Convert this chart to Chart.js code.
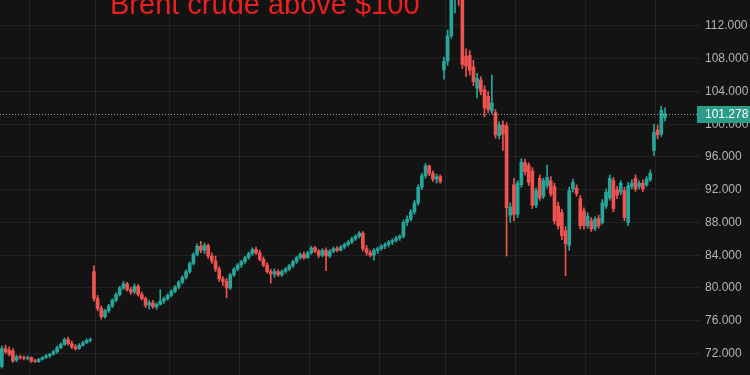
<!DOCTYPE html>
<html>
<head>
<meta charset="utf-8">
<title>Brent crude above $100</title>
<script src="https://cdn.jsdelivr.net/npm/chart.js@4.4.1/dist/chart.umd.min.js"></script>
<style>
  html, body { margin: 0; padding: 0; background: #131313; }
  #wrap { width: 750px; height: 375px; }
</style>
</head>
<body>
<div id="wrap"><canvas id="brentChart" width="750" height="375"></canvas></div>
<script>
"use strict";

// daily candles (oldest first)
const opens = [
  70.4, 72.6, 72.4, 72.3, 71.2, 71.6, 71.5, 71.4, 71.5, 71.1, 71.0, 71.3, 71.5, 71.7, 71.9, 72.2, 72.7, 73.1, 73.7, 73.2, 72.8, 72.6, 73.0, 73.3, 73.6,
  82.0, 78.7, 77.5, 76.5, 77.2, 77.8, 78.5, 79.2, 80.0, 80.5, 79.8, 79.5, 80.2, 79.2, 78.7, 77.9, 78.2, 77.7, 78.0, 78.4, 78.7, 79.1, 79.6, 80.1, 80.7,
  81.3, 82.0, 83.0, 84.1, 85.1, 84.6, 85.2, 83.9, 83.3, 82.3, 81.1, 80.8, 80.0, 81.6, 82.3, 82.8, 83.2, 83.7, 84.2, 84.7, 84.3, 83.5, 82.8, 82.0, 81.7,
  82.0, 81.6, 82.0, 82.3, 82.7, 83.2, 83.7, 84.1, 83.7, 84.3, 84.9, 84.5, 84.0, 84.6, 83.9, 84.5, 84.8, 84.6, 85.0, 85.3, 85.6, 86.0, 86.3, 86.7, 84.8,
  84.3, 84.0, 84.6, 84.8, 85.1, 85.3, 85.6, 85.8, 86.1, 86.3, 88.0, 88.4, 89.3, 90.4, 92.3, 93.7, 94.9, 94.0, 93.3, 93.6, 106.6, 107.7, 110.8, 115.5, 118.0,
  116.0, 108.3, 108.4, 107.0, 104.4, 105.4, 104.2, 103.4, 101.6, 101.4, 98.6, 99.9, 99.8, 88.9, 92.6, 89.0, 92.6, 95.3, 95.0, 94.3, 90.1, 93.4, 91.2, 92.5, 93.1,
  92.4, 90.0, 89.2, 87.0, 85.2, 92.1, 92.2, 90.9, 89.4, 87.6, 88.2, 87.3, 88.5, 88.0, 90.0, 91.0, 93.1, 92.0, 91.7, 91.9, 88.0, 92.4, 93.4, 92.4, 92.8, 92.6, 93.2, 96.8, 99.3, 98.8, 100.8
];
const highs = [
  72.9, 73.0, 72.8, 72.6, 71.8, 71.8, 71.7, 71.7, 71.6, 71.3, 71.4, 71.6, 71.9, 72.0, 72.4, 72.9, 73.3, 73.9, 74.0, 73.5, 73.1, 73.2, 73.5, 73.8, 73.9,
  82.7, 79.1, 77.8, 77.4, 78.0, 78.7, 79.4, 80.2, 80.8, 80.7, 80.1, 80.5, 80.4, 79.5, 78.9, 78.5, 78.5, 78.2, 79.8, 78.9, 79.3, 79.8, 80.3, 80.9, 81.5,
  82.2, 83.2, 84.3, 85.4, 85.7, 85.5, 85.4, 84.3, 83.9, 82.6, 81.4, 81.2, 81.8, 82.5, 83.0, 83.4, 83.9, 84.4, 84.9, 85.0, 84.6, 83.8, 83.1, 82.3, 82.3,
  82.2, 82.2, 82.5, 82.9, 83.4, 83.9, 84.3, 84.4, 84.5, 85.1, 85.1, 84.7, 84.8, 84.9, 84.7, 85.0, 85.1, 85.2, 85.5, 85.8, 86.2, 86.5, 86.9, 86.9, 85.2,
  84.6, 84.8, 85.0, 85.3, 85.5, 85.8, 86.0, 86.3, 86.5, 88.3, 88.8, 89.6, 90.7, 92.6, 94.0, 95.2, 95.0, 94.3, 93.9, 93.8, 108.2, 111.5, 118.0, 118.0, 121.0,
  117.0, 109.2, 109.0, 107.8, 106.2, 105.8, 104.7, 104.0, 106.0, 101.8, 100.3, 100.4, 100.2, 90.4, 93.4, 93.1, 95.8, 95.7, 95.3, 94.7, 92.2, 93.8, 93.4, 95.0, 93.6,
  92.8, 90.5, 89.6, 87.5, 92.3, 93.3, 92.6, 91.3, 89.8, 89.2, 88.6, 88.7, 88.9, 90.8, 92.1, 93.8, 93.5, 92.4, 93.1, 92.3, 92.9, 93.2, 93.8, 93.1, 93.2, 93.6, 94.4, 100.0, 99.9, 102.2, 102.0
];
const lows = [
  70.2, 72.0, 71.7, 70.9, 71.0, 71.3, 71.2, 71.2, 70.9, 70.9, 70.9, 71.2, 71.4, 71.5, 71.8, 72.0, 72.6, 73.0, 73.0, 72.6, 72.4, 72.5, 72.9, 73.2, 73.4,
  78.4, 77.2, 76.2, 76.3, 77.0, 77.6, 78.3, 79.0, 79.8, 79.6, 79.2, 79.3, 79.0, 78.5, 77.6, 77.4, 77.5, 77.4, 77.9, 78.1, 78.5, 78.9, 79.4, 79.9, 80.5,
  81.1, 81.8, 82.8, 83.9, 84.3, 84.2, 83.6, 83.0, 82.0, 80.8, 80.3, 78.8, 79.8, 81.4, 82.1, 82.5, 83.0, 83.5, 84.0, 84.1, 83.3, 82.6, 81.8, 80.6, 81.3,
  81.4, 81.4, 81.8, 82.1, 82.5, 83.0, 83.5, 83.5, 83.6, 84.1, 84.3, 83.7, 83.8, 82.1, 83.7, 84.3, 84.4, 84.5, 84.8, 85.1, 85.4, 85.8, 86.1, 84.5, 84.0,
  83.8, 83.4, 84.2, 84.6, 84.8, 85.0, 85.3, 85.6, 85.8, 86.1, 87.6, 88.2, 89.0, 90.1, 92.0, 93.4, 93.7, 93.0, 92.8, 92.8, 105.5, 107.2, 110.5, 113.6, 114.5,
  106.8, 105.8, 106.0, 104.7, 103.2, 103.6, 100.9, 101.4, 101.3, 98.3, 98.2, 96.8, 83.9, 88.0, 88.2, 88.6, 92.3, 93.8, 92.5, 89.7, 89.8, 90.7, 90.9, 92.2, 91.2,
  87.8, 87.2, 85.9, 81.5, 84.6, 91.7, 91.2, 87.2, 87.2, 87.3, 86.9, 87.0, 87.3, 87.8, 89.7, 90.7, 89.3, 90.9, 91.4, 88.2, 87.6, 92.1, 91.8, 92.1, 91.8, 92.4, 93.0, 96.2, 98.2, 98.5, 100.4
];
const closes = [
  72.6, 72.2, 71.9, 71.1, 71.6, 71.5, 71.4, 71.5, 71.1, 71.0, 71.3, 71.5, 71.7, 71.9, 72.2, 72.7, 73.1, 73.7, 73.2, 72.8, 72.6, 73.0, 73.3, 73.6, 73.7,
  78.7, 77.5, 76.5, 77.2, 77.8, 78.5, 79.2, 80.0, 80.5, 79.8, 79.5, 80.2, 79.2, 78.7, 77.9, 78.2, 77.7, 78.0, 78.4, 78.7, 79.1, 79.6, 80.1, 80.7, 81.3,
  82.0, 83.0, 84.1, 85.1, 84.6, 85.2, 83.9, 83.3, 82.3, 81.1, 80.8, 80.0, 81.6, 82.3, 82.8, 83.2, 83.7, 84.2, 84.7, 84.3, 83.5, 82.8, 82.0, 81.7, 82.0,
  81.6, 82.0, 82.3, 82.7, 83.2, 83.7, 84.1, 83.7, 84.3, 84.9, 84.5, 84.0, 84.6, 83.9, 84.5, 84.8, 84.6, 85.0, 85.3, 85.6, 86.0, 86.3, 86.7, 84.8, 84.3,
  84.0, 84.6, 84.8, 85.1, 85.3, 85.6, 85.8, 86.1, 86.3, 88.0, 88.4, 89.3, 90.4, 92.3, 93.7, 94.9, 94.0, 93.3, 93.6, 93.0, 107.7, 110.8, 117.0, 117.5, 116.0,
  107.3, 107.1, 106.6, 105.2, 105.6, 104.0, 102.0, 101.8, 102.6, 98.7, 99.9, 98.8, 89.8, 89.9, 89.0, 92.8, 95.4, 94.2, 92.9, 90.1, 91.9, 91.0, 93.1, 93.5, 91.5,
  88.2, 87.6, 86.4, 85.4, 91.9, 92.9, 91.5, 87.6, 87.6, 88.8, 87.2, 88.4, 87.6, 90.4, 91.7, 93.4, 89.7, 91.3, 92.8, 88.6, 92.5, 92.8, 92.1, 92.8, 92.1, 93.3, 94.0, 99.0, 98.7, 101.7, 101.278
];

// empty slots are kept at the right like in the trading view screen
const slotCount = 190;
const slots = Array.from({ length: slotCount }, (_, i) => i + 1);

// slot indices where a new month starts (vertical grid lines)
const monthStarts = [8, 26, 46, 65, 84, 103, 121, 140, 159, 178];

const priceTicks = [72, 76, 80, 84, 88, 92, 96, 100, 104, 108, 112];
const priceMin = 69.37;
const priceMax = 115.17;

const titleText = "Brent crude above $100";

const upColor = "#26a69a";
const downColor = "#ef5350";
const gridColor = "rgba(255, 255, 255, 0.07)";

const candleColors = closes.map((c, i) => (c >= opens[i] ? upColor : downColor));
const lastPrice = closes[closes.length - 1];

const backgroundPlugin = {
  id: "background",
  beforeDraw(chart) {
    const ctx = chart.ctx;
    ctx.save();
    ctx.fillStyle = "#131313";
    ctx.fillRect(0, 0, chart.width, chart.height);
    ctx.restore();
  }
};

const overlayPlugin = {
  id: "overlay",
  afterDraw(chart) {
    const ctx = chart.ctx;
    const area = chart.chartArea;
    const y = Math.round(chart.scales.y.getPixelForValue(lastPrice));

    // dotted last price line
    ctx.save();
    ctx.strokeStyle = "rgba(200, 200, 200, 0.75)";
    ctx.lineWidth = 1;
    ctx.setLineDash([1, 2]);
    ctx.beginPath();
    ctx.moveTo(area.left, y + 0.5);
    ctx.lineTo(area.right - 3, y + 0.5);
    ctx.stroke();
    ctx.setLineDash([]);

    // last price tag on the axis
    ctx.fillStyle = "#2a9d8a";
    ctx.fillRect(area.right - 3, y - 8, chart.width - area.right + 3, 17);
    ctx.fillStyle = "#ffffff";
    ctx.font = "12px 'Liberation Sans', Arial, sans-serif";
    ctx.textBaseline = "middle";
    ctx.textAlign = "left";
    ctx.fillText(lastPrice.toFixed(3), area.right + 5, y + 1);

    // headline, cut off at the top like in the screenshot
    ctx.fillStyle = "#e8201f";
    ctx.font = "29px 'Liberation Sans', Arial, sans-serif";
    ctx.textBaseline = "alphabetic";
    ctx.fillText(titleText, 110, 14);
    ctx.restore();
  }
};

const ctx = document.getElementById("brentChart").getContext("2d");

new Chart(ctx, {
  type: "bar",
  data: {
    labels: slots,
    datasets: [
      {
        label: "High/Low",
        data: lows.map((l, i) => [l, highs[i]]),
        backgroundColor: candleColors,
        barThickness: 1,
        grouped: false,
        order: 2
      },
      {
        label: "Open/Close",
        data: opens.map((o, i) => [o, closes[i]]),
        backgroundColor: candleColors,
        barThickness: 3,
        grouped: false,
        order: 1
      }
    ]
  },
  options: {
    responsive: false,
    animation: false,
    devicePixelRatio: 1,
    layout: { padding: 0 },
    plugins: {
      legend: { display: false },
      tooltip: { enabled: false },
      title: { display: false }
    },
    scales: {
      x: {
        ticks: { display: false },
        border: { display: false },
        grid: {
          drawTicks: false,
          color: (c) => (monthStarts.includes(c.index) ? gridColor : "rgba(0,0,0,0)")
        },
        afterFit(scale) {
          scale.height = 0;
          scale.paddingLeft = 0;
          scale.paddingRight = 0;
          scale.paddingTop = 0;
          scale.paddingBottom = 0;
        }
      },
      y: {
        position: "right",
        min: priceMin,
        max: priceMax,
        border: { display: false },
        grid: { drawTicks: false, color: gridColor },
        ticks: {
          padding: 5,
          color: "#b4b4b4",
          font: { family: "'Liberation Sans', Arial, sans-serif", size: 12 },
          callback: (v) => Number(v).toFixed(3)
        },
        afterBuildTicks(scale) {
          scale.ticks = priceTicks.map(v => ({ value: v }));
        },
        afterFit(scale) {
          scale.width = 50;
          scale.paddingTop = 0;
          scale.paddingBottom = 0;
        }
      }
    }
  },
  plugins: [backgroundPlugin, overlayPlugin]
});
</script>
</body>
</html>
